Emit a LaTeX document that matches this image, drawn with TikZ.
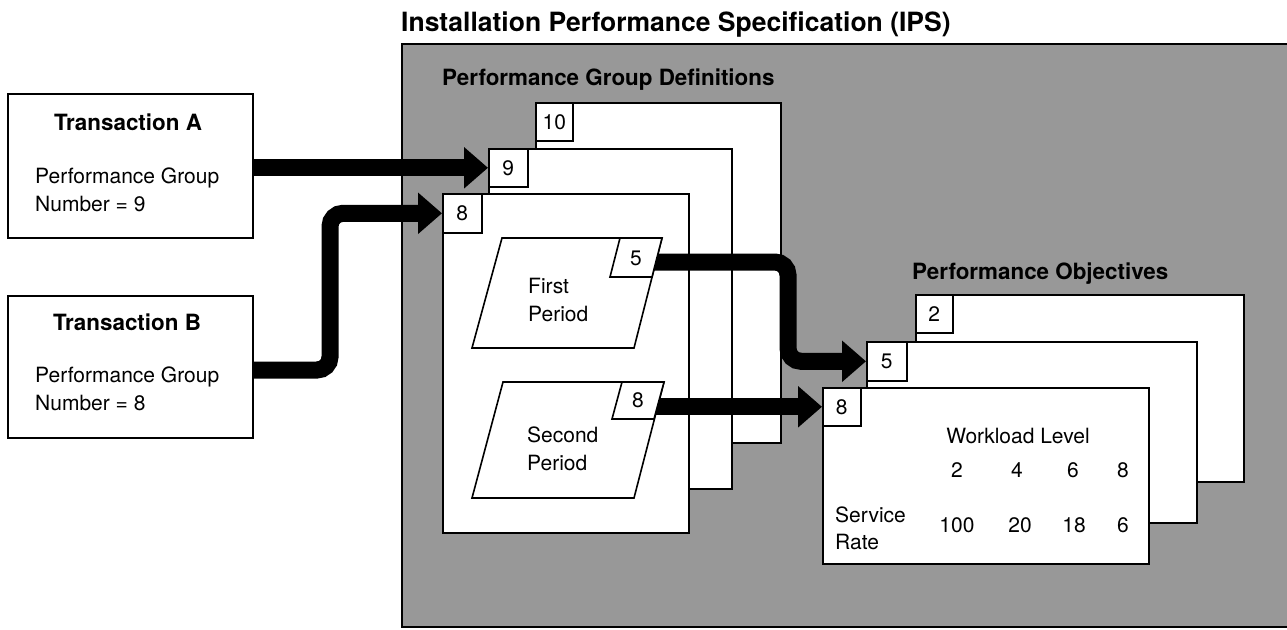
\documentclass[tikz,border=0pt]{standalone}
\usepackage{fontspec}
\setmainfont{TeX Gyre Heros}
\usetikzlibrary{arrows.meta}
\definecolor{ipsgray}{RGB}{152,152,152}
\newcommand\fRg{\fontsize{21}{27}\selectfont}
\newcommand\fBd{\fontsize{22.4}{28}\selectfont\bfseries}
\newcommand\fTtl{\fontsize{26.5}{32}\selectfont\bfseries}
\begin{document}
\begin{tikzpicture}[x=1pt,y=-1pt,
  box/.style={draw, line width=1.6pt, fill=white, anchor=north west, inner sep=0pt},
  lab/.style={draw, line width=1.6pt, fill=white, anchor=north west, inner sep=0pt, font=\fRg},
  txt/.style={inner sep=0pt, font=\fRg},
  bigarrow/.style={line width=17pt, rounded corners=13pt, -{Triangle[length=24pt,width=40pt]}},
  pgram/.style={draw, line width=1.6pt, fill=white, line join=miter}]
\useasboundingbox (0,0) rectangle (1287,629);
% installation performance specification area
\fill[ipsgray] (402,44) rectangle (1300,627);
\draw[line width=2.2pt] (1300,44) -- (402,44) -- (402,627) -- (1300,627);
\node[txt, font=\fTtl, anchor=base west] (ipsT) at (401,31) {Installation Performance Specification (IPS)};
\node[txt, font=\fBd, anchor=base west] (pgdT) at (442,85) {Performance Group Definitions};
\node[txt, font=\fBd, anchor=base west] (poT) at (912,279) {Performance Objectives};
% performance group definitions
\node[box, minimum width=245pt, minimum height=340pt] (pg10) at (535,102) {};
\node[lab, minimum width=37pt, minimum height=38pt] (pg10l) at (535,102) {10};
\node[box, minimum width=243pt, minimum height=340pt] (pg9) at (488,148) {};
\node[lab, minimum width=39pt, minimum height=38pt] (pg9l) at (488,148) {9};
\node[box, minimum width=246pt, minimum height=339pt] (pg8) at (442,193) {};
\node[lab, minimum width=39pt, minimum height=39pt] (pg8l) at (442,193) {8};
% performance objectives
\node[box, minimum width=328pt, minimum height=187pt] (po2) at (915,294) {};
\node[lab, minimum width=37pt, minimum height=38pt] (po2l) at (915,294) {2};
\node[box, minimum width=330pt, minimum height=181pt] (po5) at (866,341) {};
\node[lab, minimum width=40pt, minimum height=39pt] (po5l) at (866,341) {5};
\node[box, minimum width=326pt, minimum height=176pt] (po8) at (822,387) {};
\node[lab, minimum width=38pt, minimum height=38pt] (po8l) at (822,387) {8};
% transactions
\node[box, minimum width=245pt, minimum height=144pt] (txA) at (7,93) {};
\node[box, minimum width=245pt, minimum height=142pt] (txB) at (7,295) {};
\node[txt, font=\fBd, anchor=base] (txAt) at (128,130) {Transaction A};
\node[txt, anchor=base west] (txAp) at (35,183) {Performance Group};
\node[txt, anchor=base west] (txAn) at (35,211) {Number = 9};
\node[txt, font=\fBd, anchor=base] (txBt) at (127,330) {Transaction B};
\node[txt, anchor=base west] (txBp) at (35,382) {Performance Group};
\node[txt, anchor=base west] (txBn) at (35,410) {Number = 8};
% connector end points
\coordinate (bS) at (252,370);
\coordinate (bM1) at (330,370);
\coordinate (fS) at (650,262);
\coordinate (fM1) at (788,262);
\coordinate (sS) at (650,406);
% arrows
\draw[bigarrow] (txA.east |- pg9l.west) -- (pg9l.west);
\draw[bigarrow] (bS) -- (bM1) -- (bM1 |- pg8l.west) -- (pg8l.west);
\draw[bigarrow] (fS) -- (fM1) -- (fM1 |- po5l.west) -- (po5l.west);
\draw[bigarrow] (sS |- po8l.west) -- (po8l.west);
% periods
\draw[pgram] (502,238) -- (662,238) -- (634,348) -- (472,348) -- cycle;
\draw[pgram] (620,238) -- (662,238) -- (652,277) -- (610,277) -- cycle;
\node[txt] (p1n) at (636,258) {5};
\node[txt, anchor=base west] (p1a) at (528,293) {First};
\node[txt, anchor=base west] (p1b) at (528,321) {Period};
\draw[pgram] (503,382) -- (664,382) -- (634,498) -- (472,498) -- cycle;
\draw[pgram] (622,382) -- (664,382) -- (654,419) -- (612,419) -- cycle;
\node[txt] (p2n) at (638,400) {8};
\node[txt, anchor=base west] (p2a) at (527,442) {Second};
\node[txt, anchor=base west] (p2b) at (527,470) {Period};
% table
\node[txt, anchor=base] (wl) at (1018,443) {Workload Level};
\node[txt, anchor=base] (w2) at (957,477) {2};
\node[txt, anchor=base] (w4) at (1017,477) {4};
\node[txt, anchor=base] (w6) at (1073,477) {6};
\node[txt, anchor=base] (w8) at (1123,477) {8};
\node[txt, anchor=base west] (sr1) at (835,522) {Service};
\node[txt, anchor=base west] (sr2) at (835,549) {Rate};
\node[txt, anchor=base] (v1) at (957,532) {100};
\node[txt, anchor=base] (v2) at (1020,532) {20};
\node[txt, anchor=base] (v3) at (1074,532) {18};
\node[txt, anchor=base] (v4) at (1123,532) {6};
\end{tikzpicture}
\end{document}
